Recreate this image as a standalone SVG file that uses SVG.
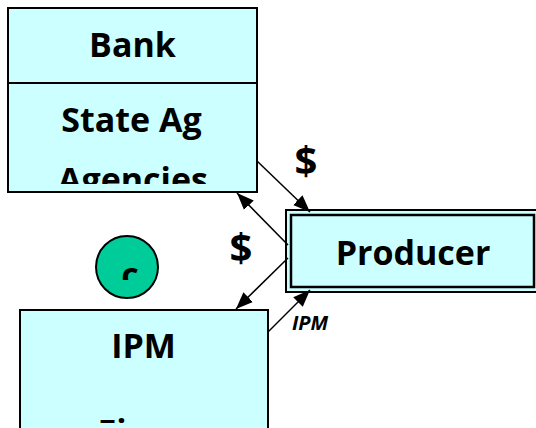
<svg xmlns="http://www.w3.org/2000/svg" width="536" height="428" viewBox="0 0 536 428">
  <style>
    .box { fill: #CCFFFF; stroke: #000; stroke-width: 2; }
    .lbl { font-family: "Open Sans", "Liberation Sans", sans-serif; font-weight: bold; font-size: 34px; fill: #000; text-anchor: middle; }
    .dollar { font-family: "Open Sans", "Liberation Sans", sans-serif; font-weight: bold; font-size: 40px; fill: #000; text-anchor: middle; }
    .small { font-family: "Open Sans", "Liberation Sans", sans-serif; font-weight: bold; font-style: italic; font-size: 20px; fill: #000; text-anchor: middle; }
    .conn { stroke: #000; stroke-width: 1.5; fill: none; marker-end: url(#arr); }
  </style>
  <defs>
    <marker id="arr" viewBox="0 0 10 10" refX="10" refY="5" markerWidth="17" markerHeight="17" markerUnits="userSpaceOnUse" orient="auto">
      <path d="M0,1 L10,5 L0,9 z" fill="#000"/>
    </marker>
    <clipPath id="clipBank"><rect x="9" y="84" width="247" height="100"/></clipPath>
    <clipPath id="clipIPM"><rect x="21" y="311" width="246" height="112"/></clipPath>
    <clipPath id="clipCirc"><rect x="95" y="236" width="64" height="44"/></clipPath>
  </defs>

  <g id="bank">
    <rect class="box" x="8" y="8" width="249" height="184"/>
    <line x1="8" y1="83" x2="257" y2="83" stroke="#000" stroke-width="2"/>
    <text class="lbl" x="132.5" y="57">Bank</text>
    <g clip-path="url(#clipBank)">
      <text class="lbl" x="131.5" y="132">State Ag</text>
      <text class="lbl" x="133" y="192">Agencies</text>
    </g>
  </g>

  <g id="producer">
    <rect x="286" y="210" width="256" height="82" fill="#CCFFFF" stroke="#000" stroke-width="2"/>
    <rect x="291" y="215" width="243" height="72" fill="#CCFFFF" stroke="#000" stroke-width="2.5"/>
    <text class="lbl" x="413" y="265">Producer</text>
  </g>

  <g id="circle">
    <circle cx="127" cy="267" r="31" fill="#00CC99" stroke="#000" stroke-width="2"/>
    <g clip-path="url(#clipCirc)">
      <text class="lbl" x="130" y="287">c</text>
    </g>
  </g>

  <g id="ipm-firms">
    <rect class="box" x="20" y="310" width="248" height="140"/>
    <text class="lbl" x="143.5" y="358">IPM</text>
    <g clip-path="url(#clipIPM)">
      <text class="lbl" x="145" y="444">Firms</text>
    </g>
  </g>

  <g id="connectors">
    <line class="conn" x1="257" y1="161" x2="310" y2="212"/>
    <line class="conn" x1="288" y1="245" x2="237" y2="193"/>
    <line class="conn" x1="288" y1="258" x2="236" y2="309"/>
    <line class="conn" x1="268" y1="332" x2="310" y2="290"/>
  </g>

  <g id="labels">
    <text class="dollar" x="306" y="175">$</text>
    <text class="dollar" x="241" y="262">$</text>
    <text class="small" x="310" y="330">IPM</text>
  </g>
</svg>
